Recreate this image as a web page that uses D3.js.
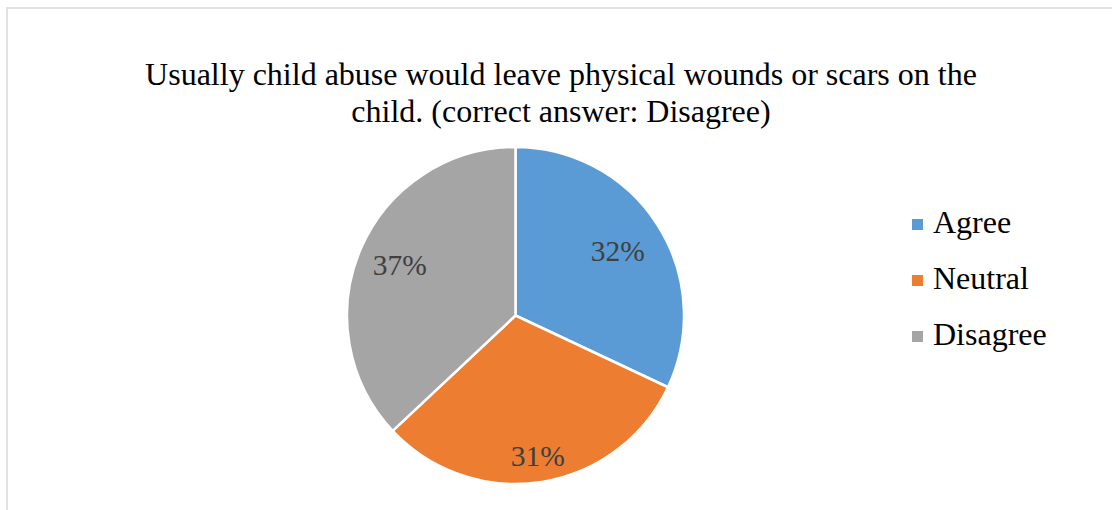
<!DOCTYPE html>
<html>
<head>
<meta charset="utf-8">
<script src="https://cdn.jsdelivr.net/npm/d3@7"></script>
<style>
  html, body { margin: 0; padding: 0; background: #fff; }
  svg { display: block; }
  svg text { font-family: "Liberation Serif", "Times New Roman", Times, "DejaVu Serif", serif; }
</style>
</head>
<body>
<svg id="chart" width="1112" height="510"></svg>
<script>
// Survey responses for the statement
const categories = ["Agree", "Neutral", "Disagree"];
const values = [32, 31, 37];
const colors = ["#5B9BD5", "#ED7D31", "#A5A5A5"];
const titleLines = [
  "Usually child abuse would leave physical wounds or scars on the",
  "child. (correct answer: Disagree)"
];

const svg = d3.select("#chart");

// Chart frame (only top and left edges fall inside the view)
svg.append("rect")
  .attr("x", 7).attr("y", 8)
  .attr("width", 1200).attr("height", 600)
  .attr("fill", "none")
  .attr("stroke", "#d9d9d9")
  .attr("stroke-width", 1.5);

// Title
const title = svg.append("text")
  .attr("text-anchor", "middle")
  .attr("font-size", 32)
  .attr("fill", "#000");
title.selectAll("tspan")
  .data(titleLines)
  .join("tspan")
  .attr("x", 561)
  .attr("y", (d, i) => 85 + i * 37)
  .text(d => d);

// Pie
const cx = 515.5, cy = 315.5, R = 168.5;
const g = svg.append("g").attr("transform", `translate(${cx},${cy})`);

const pie = d3.pie().sort(null).value(d => d.value);
const arcs = pie(categories.map((c, i) => ({ name: c, value: values[i], color: colors[i] })));
const arc = d3.arc().innerRadius(0).outerRadius(R);

g.selectAll("path.slice")
  .data(arcs)
  .join("path")
  .attr("class", "slice")
  .attr("d", arc)
  .attr("fill", d => d.data.color)
  .attr("stroke", "#fff")
  .attr("stroke-width", 2.5)
  .attr("stroke-linejoin", "round");

// Percentage labels, placed along each slice's mid angle
const labelRadius = [121, 142, 126];
g.selectAll("text.pct")
  .data(arcs)
  .join("text")
  .attr("class", "pct")
  .attr("text-anchor", "middle")
  .attr("dominant-baseline", "central")
  .attr("font-size", 29.5)
  .attr("fill", "#404040")
  .attr("transform", (d, i) => {
    const a = (d.startAngle + d.endAngle) / 2;
    const r = labelRadius[i];
    return `translate(${r * Math.sin(a)},${-r * Math.cos(a)})`;
  })
  .text(d => d.data.value + "%");

// Legend
const legend = svg.append("g").attr("transform", "translate(912,219)");
const item = legend.selectAll("g")
  .data(arcs)
  .join("g")
  .attr("transform", (d, i) => `translate(0,${i * 56})`);
item.append("rect")
  .attr("width", 11).attr("height", 11)
  .attr("fill", d => d.data.color);
item.append("text")
  .attr("x", 21).attr("y", 14)
  .attr("font-size", 32)
  .attr("fill", "#000")
  .text(d => d.data.name);
</script>
</body>
</html>
